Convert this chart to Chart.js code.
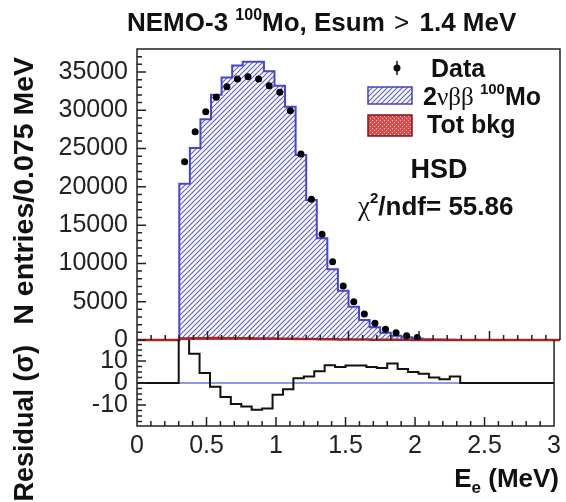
<!DOCTYPE html>
<html>
<head>
<meta charset="utf-8">
<script src="https://cdn.jsdelivr.net/npm/chart.js@4.4.0/dist/chart.umd.min.js"></script>
<style>
  html, body { margin: 0; padding: 0; background: #fff; }
  #wrap { position: relative; width: 566px; height: 502px; overflow: hidden; }
  canvas { position: absolute; left: 0; top: 0; }
</style>
</head>
<body>
<div id="wrap">
  <canvas id="mainChart" width="566" height="502"></canvas>
  <canvas id="residChart" width="566" height="502"></canvas>
</div>
<script>
/* NEMO-3 100Mo single electron energy, Esum > 1.4 MeV */

// --- bin low edges (MeV), last entry closes the last bin ---
const binEdges = [0.3, 0.375, 0.45, 0.525, 0.6, 0.675, 0.75, 0.825, 0.9, 0.975,
                  1.05, 1.125, 1.2, 1.275, 1.35, 1.425, 1.5, 1.575, 1.65, 1.725,
                  1.8, 1.875, 1.95, 2.025, 2.1, 2.175, 2.25, 2.325, 2.4];

// --- entries per bin (data shown where visible) ---
const dataCounts = [23290, 27200, 29800, 31700, 33080, 34090, 34390, 34090, 33210, 32350,
                    29950, 24290, 18380, 13800, 10230, 7050, 5000, 3400, 2180, 1400,
                    950, 560, 320];
const mcCounts   = [20400, 25080, 28840, 32040, 34280, 35850, 36330, 36330, 35080, 33200,
                    30470, 24150, 18280, 13300, 9250, 6420, 4350, 2610, 1650, 950,
                    560, 350, 200, 110, 60, 30, 15, 5];
const bkgCounts  = [210, 230, 240, 250, 240, 230, 220, 200, 190, 170,
                    160, 140, 120, 110, 90, 80, 60, 50, 40, 30,
                    25, 20, 15, 10, 8, 5, 3, 0];
const residuals  = [28, 13.3, 4.5, -1.7, -6.4, -9.5, -10.7, -12.1, -11.6, -5.3,
                    -2.8, 2.2, 2.9, 5.3, 8.1, 7.3, 7.9, 7.9, 7.3, 6.8,
                    8.8, 6.4, 5.0, 4.2, 2.5, 1.7, 2.9, 0];

// --- tick labels ---
const xTicks = [0, 0.5, 1, 1.5, 2, 2.5, 3];
const yTicksTop = [0, 5000, 10000, 15000, 20000, 25000, 30000, 35000];
const yTicksRes = [-10, 0, 10];

const SANS = "'Liberation Sans', Arial, sans-serif";
const SERIF = "'Liberation Serif', 'DejaVu Serif', serif";
const B = (s) => `bold ${s}px ${SANS}`;
const R = (s) => `${s}px ${SANS}`;

// --- fill patterns ---
function hatchPattern(color) {
    const c = document.createElement('canvas');
    c.width = 5; c.height = 5;
    const g = c.getContext('2d');
    g.fillStyle = '#ffffff'; g.fillRect(0, 0, 5, 5);
    g.strokeStyle = color; g.lineWidth = 1.1;
    g.beginPath();
    g.moveTo(-1, 6); g.lineTo(6, -1);
    g.moveTo(-1, 1); g.lineTo(1, -1);
    g.moveTo(4, 6); g.lineTo(6, 4);
    g.stroke();
    return g.createPattern(c, 'repeat');
}
function dotPattern() {
    const c = document.createElement('canvas');
    c.width = 4; c.height = 4;
    const g = c.getContext('2d');
    g.fillStyle = '#e04a4a'; g.fillRect(0, 0, 4, 4);
    g.fillStyle = '#f6c0c0';
    g.fillRect(0, 0, 1, 1); g.fillRect(2, 2, 1, 1);
    return g.createPattern(c, 'repeat');
}
const blueHatch = hatchPattern('#5a5ad0');
const redDots = dotPattern();

// histogram as stepped line: flat zero, then one point per low edge
function stepPoints(values) {
    const pts = [{ x: 0, y: 0 }];
    values.forEach((v, i) => pts.push({ x: binEdges[i], y: v }));
    pts.push({ x: binEdges[values.length], y: 0 });
    pts.push({ x: 3, y: 0 });
    return pts;
}
const dataPoints = dataCounts.map((v, i) => ({ x: (binEdges[i] + binEdges[i + 1]) / 2, y: v }));

function drawRuns(ctx, x, y, runs) {
    runs.forEach(r => {
        ctx.font = r.font;
        ctx.fillText(r.t, x, y + (r.dy || 0));
        x += ctx.measureText(r.t).width + (r.gap || 0);
    });
    return x;
}

// frame + inward ticks like ROOT
function framePlugin(id, o) {
    return {
        id,
        afterDatasetsDraw(chart) {
            const { ctx, chartArea: a, scales: { x, y } } = chart;
            ctx.save();
            ctx.strokeStyle = '#222';
            ctx.lineWidth = 1.5;
            ctx.beginPath();
            if (o.topEdge) { ctx.moveTo(a.left, a.bottom); ctx.lineTo(a.left, a.top); ctx.lineTo(a.right, a.top); ctx.lineTo(a.right, a.bottom); }
            else { ctx.moveTo(a.left, a.top); ctx.lineTo(a.left, a.bottom); ctx.lineTo(a.right, a.bottom); ctx.lineTo(a.right, a.top); }
            for (let k = 0; k <= 30; k++) {
                const px = x.getPixelForValue(k / 10);
                const len = k % 5 === 0 ? 9 : 5;
                ctx.moveTo(px, a.bottom); ctx.lineTo(px, a.bottom - len);
            }
            const k0 = Math.ceil(y.min / o.minor), k1 = Math.floor(y.max / o.minor);
            for (let k = k0; k <= k1; k++) {
                const v = k * o.minor;
                const py = y.getPixelForValue(v);
                const len = Math.abs(v % o.major) < 1e-6 ? 9 : 5;
                ctx.moveTo(a.left, py); ctx.lineTo(a.left + len, py);
            }
            ctx.stroke();
            ctx.restore();
        }
    };
}

const topText = {
    id: 'topText',
    afterDraw(chart) {
        const ctx = chart.ctx;
        ctx.save();
        ctx.fillStyle = '#111';
        ctx.textBaseline = 'alphabetic';
        ctx.textAlign = 'left';
        // title
        drawRuns(ctx, 127, 31, [
            { t: 'NEMO-3 ', font: B(26) },
            { t: '100', font: B(16), dy: -11 },
            { t: 'Mo, Esum ', font: B(26), gap: 2 },
            { t: '>', font: R(26), gap: 3 },
            { t: ' 1.4 MeV', font: B(26) }
        ]);
        // legend: data marker
        ctx.beginPath();
        ctx.arc(397, 68, 3.5, 0, Math.PI * 2);
        ctx.fill();
        ctx.lineWidth = 1.5; ctx.strokeStyle = '#111';
        ctx.beginPath(); ctx.moveTo(397, 61); ctx.lineTo(397, 75); ctx.stroke();
        ctx.font = B(25);
        ctx.fillText('Data', 431, 77);
        // legend: MC box
        ctx.fillStyle = blueHatch;
        ctx.fillRect(368, 87, 44, 17);
        ctx.strokeStyle = '#4040c0'; ctx.lineWidth = 1.5;
        ctx.strokeRect(368, 87, 44, 17);
        ctx.fillStyle = '#111';
        drawRuns(ctx, 423, 105, [
            { t: '2', font: B(25) },
            { t: 'νββ ', font: `25px ${SERIF}` },
            { t: '100', font: B(15), dy: -11 },
            { t: 'Mo', font: B(25) }
        ]);
        // legend: bkg box
        ctx.fillStyle = redDots;
        ctx.fillRect(368, 115, 44, 21);
        ctx.strokeStyle = '#7a1a1a';
        ctx.strokeRect(368, 115, 44, 21);
        ctx.fillStyle = '#111';
        ctx.font = B(25);
        ctx.fillText('Tot bkg', 427, 133);
        // fit label
        ctx.textAlign = 'center';
        ctx.font = B(27);
        ctx.fillText('HSD', 439, 178);
        ctx.textAlign = 'left';
        drawRuns(ctx, 358, 215, [
            { t: 'χ', font: `27px ${SERIF}` },
            { t: '2', font: B(15), dy: -12 },
            { t: '/ndf= 55.86', font: B(26) }
        ]);
        // y title
        ctx.translate(33, 57);
        ctx.rotate(-Math.PI / 2);
        ctx.textAlign = 'right';
        ctx.font = B(28.5);
        ctx.fillText('N entries/0.075 MeV', 0, 0);
        ctx.restore();
    }
};

const bottomText = {
    id: 'bottomText',
    afterDraw(chart) {
        const ctx = chart.ctx;
        ctx.save();
        ctx.fillStyle = '#111';
        // x title, right aligned at frame edge
        ctx.font = B(26);
        const w1 = ctx.measureText('E').width;
        const w3 = ctx.measureText(' (MeV)').width;
        ctx.font = B(17);
        const w2 = ctx.measureText('e').width;
        drawRuns(ctx, 559 - w1 - w2 - w3, 487, [
            { t: 'E', font: B(26) },
            { t: 'e', font: B(17), dy: 6 },
            { t: ' (MeV)', font: B(26) }
        ]);
        ctx.translate(33, 345);
        ctx.rotate(-Math.PI / 2);
        ctx.textAlign = 'right';
        ctx.font = B(27);
        ctx.fillText('Residual (σ)', 0, 0);
        ctx.restore();
    }
};

Chart.defaults.animation = false;
Chart.defaults.color = '#222';

new Chart(document.getElementById('mainChart'), {
    type: 'line',
    data: {
        datasets: [
            { label: 'Data', data: dataPoints, showLine: false, pointRadius: 3.5,
              pointBackgroundColor: '#000', pointBorderColor: '#000', pointBorderWidth: 0 },
            { label: 'Tot bkg', data: stepPoints(bkgCounts), stepped: 'before', pointRadius: 0,
              borderColor: '#a52424', borderWidth: 2.5, fill: 'origin', backgroundColor: redDots,
              clip: { left: 0, top: 0, right: 0, bottom: 3 } },
            { label: '2nubb 100Mo', data: stepPoints(mcCounts), stepped: 'before', pointRadius: 0,
              borderColor: '#4646cc', borderWidth: 2, fill: 'origin', backgroundColor: blueHatch }
        ]
    },
    options: {
        responsive: false,
        devicePixelRatio: 1,
        layout: { padding: { left: 0, right: 6, top: 49, bottom: 162 } },
        plugins: { legend: { display: false }, tooltip: { enabled: false } },
        scales: {
            x: { type: 'linear', min: 0, max: 3, display: false },
            y: {
                type: 'linear', min: 0, max: 38000,
                grid: { display: false, drawTicks: false }, border: { display: false },
                afterBuildTicks: s => { s.ticks = yTicksTop.map(v => ({ value: v })); },
                afterFit: s => { s.width = 137; },
                ticks: { font: { family: SANS, size: 25 }, color: '#222', padding: 9,
                         callback: v => String(v) }
            }
        }
    },
    plugins: [framePlugin('frameTop', { topEdge: true, minor: 1000, major: 5000 }), topText]
});

new Chart(document.getElementById('residChart'), {
    type: 'line',
    data: {
        datasets: [
            { label: 'Residual', data: stepPoints(residuals), stepped: 'before', pointRadius: 0,
              borderColor: '#111', borderWidth: 2, fill: false },
            { label: 'zero', data: [{ x: 0, y: 0 }, { x: 3, y: 0 }], pointRadius: 0,
              borderColor: '#7070ee', borderWidth: 1.5, fill: false }
        ]
    },
    options: {
        responsive: false,
        devicePixelRatio: 1,
        layout: { padding: { left: 0, right: 6, top: 340, bottom: 0 } },
        plugins: { legend: { display: false }, tooltip: { enabled: false } },
        scales: {
            x: {
                type: 'linear', min: 0, max: 3,
                grid: { display: false, drawTicks: false }, border: { display: false },
                afterBuildTicks: s => { s.ticks = xTicks.map(v => ({ value: v })); },
                afterFit: s => { s.height = 76; },
                ticks: { font: { family: SANS, size: 25 }, color: '#222', padding: 5,
                         autoSkip: false, maxRotation: 0, callback: v => String(v) }
            },
            y: {
                type: 'linear', min: -19.5, max: 19.5,
                grid: { display: false, drawTicks: false }, border: { display: false },
                afterBuildTicks: s => { s.ticks = yTicksRes.map(v => ({ value: v })); },
                afterFit: s => { s.width = 137; },
                ticks: { font: { family: SANS, size: 25 }, color: '#222', padding: 9,
                         callback: v => String(v) }
            }
        }
    },
    plugins: [framePlugin('frameRes', { topEdge: false, minor: 2.5, major: 10 }), bottomText]
});
</script>
</body>
</html>
